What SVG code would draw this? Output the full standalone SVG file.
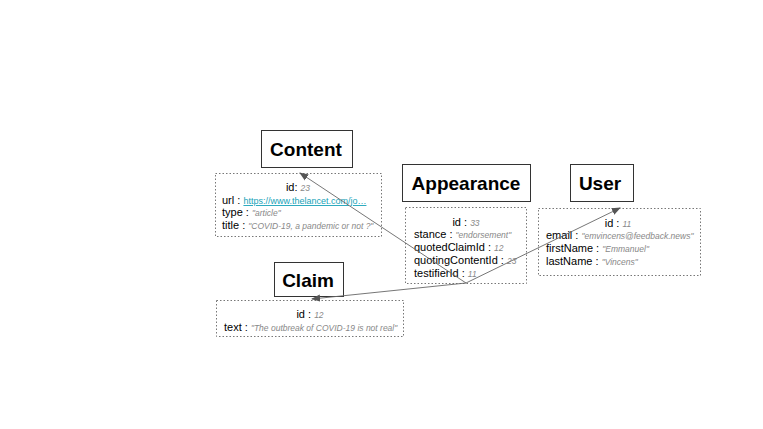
<svg xmlns="http://www.w3.org/2000/svg" width="763" height="429" viewBox="0 0 763 429">
<defs>
<style>
.title{fill:#fff;stroke:#333;stroke-width:1}
.tt{font-family:"Liberation Sans",Arial,sans-serif;font-size:19px;font-weight:bold;fill:#000;text-anchor:middle}
.box{fill:#fff;stroke:#777;stroke-width:1;stroke-dasharray:1.5,2}
.f{font-family:"Liberation Sans",Arial,sans-serif;font-size:11px;fill:#000}
.v{font-size:8.5px;fill:#888;font-style:italic}
.lk{font-size:9px;fill:#17a2b8;text-decoration:underline;font-style:normal}
.ln{stroke:#666;stroke-width:0.9;fill:none;marker-end:url(#ah)}
</style>
<marker id="ah" viewBox="0 0 10 10" refX="9" refY="5" markerWidth="9" markerHeight="9" orient="auto" markerUnits="userSpaceOnUse">
<path d="M0,1 L10,5 L0,9 Z" fill="#555"/>
</marker>
</defs>
<rect width="763" height="429" fill="#fff"/>
<g id="content">
<rect class="title" x="261.5" y="130.5" width="91" height="37"/>
<text class="tt" x="306" y="156">Content</text>
<rect class="box" x="215.5" y="173.5" width="166" height="63"/>
<text class="f" x="298" y="191" text-anchor="middle">id: <tspan class="v">23</tspan></text>
<text class="f" x="222" y="204">url : <tspan class="lk">https://www.thelancet.com/jo…</tspan></text>
<text class="f" x="222" y="216">type : <tspan class="v">"article"</tspan></text>
<text class="f" x="222" y="229">title : <tspan class="v">"COVID-19, a pandemic or not ?"</tspan></text>
</g>
<g id="appearance">
<rect class="title" x="402.5" y="164.5" width="128" height="37"/>
<text class="tt" x="466" y="190">Appearance</text>
<rect class="box" x="405.5" y="207.5" width="121" height="76"/>
<text class="f" x="466" y="226" text-anchor="middle">id : <tspan class="v">33</tspan></text>
<text class="f" x="414" y="238">stance : <tspan class="v">"endorsement"</tspan></text>
<text class="f" x="414" y="251">quotedClaimId : <tspan class="v">12</tspan></text>
<text class="f" x="414" y="264">quotingContentId : <tspan class="v">23</tspan></text>
<text class="f" x="414" y="277">testifierId : <tspan class="v">11</tspan></text>
</g>
<g id="user">
<rect class="title" x="570.5" y="164.5" width="63" height="37"/>
<text class="tt" x="600" y="190">User</text>
<rect class="box" x="538.5" y="208.5" width="162" height="67"/>
<text class="f" x="618" y="227" text-anchor="middle">id : <tspan class="v">11</tspan></text>
<text class="f" x="546" y="239">email : <tspan class="v">"emvincens@feedback.news"</tspan></text>
<text class="f" x="546" y="252">firstName : <tspan class="v">"Emmanuel"</tspan></text>
<text class="f" x="546" y="265">lastName : <tspan class="v">"Vincens"</tspan></text>
</g>
<g id="claim">
<rect class="title" x="274.5" y="262.5" width="69" height="34"/>
<text class="tt" x="308" y="287">Claim</text>
<rect class="box" x="216.5" y="300.5" width="187" height="36"/>
<text class="f" x="310" y="318" text-anchor="middle">id : <tspan class="v">12</tspan></text>
<text class="f" x="224" y="331">text : <tspan class="v">"The outbreak of COVID-19 is not real"</tspan></text>
</g>
<g id="connectors">
<line class="ln" x1="466" y1="283" x2="300" y2="173"/>
<line class="ln" x1="466" y1="283" x2="620" y2="208"/>
<line class="ln" x1="466" y1="283" x2="312" y2="299"/>
</g>
</svg>
